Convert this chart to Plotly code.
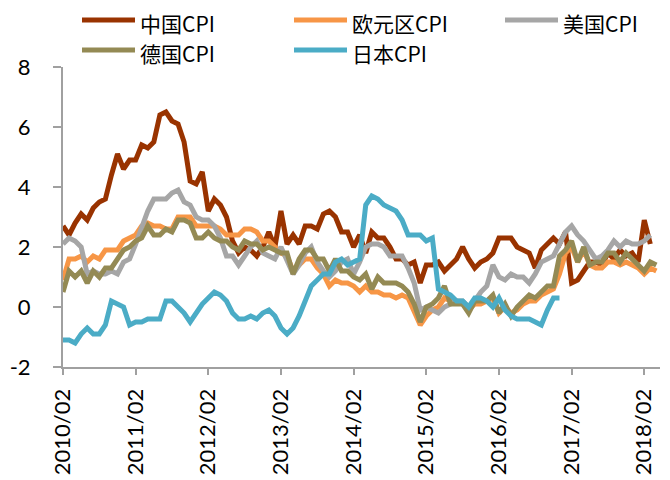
import plotly.graph_objects as go

# Months 2010/02 .. 2018/04
months = []
y, m = 2010, 2
while (y, m) <= (2018, 4):
    months.append(f"{y}/{m:02d}")
    m += 1
    if m > 12:
        y, m = y + 1, 1

tick_labels = ["2010/02", "2011/02", "2012/02", "2013/02", "2014/02",
               "2015/02", "2016/02", "2017/02", "2018/02"]
y_tick_vals = [-2, 0, 2, 4, 6, 8]
y_tick_text = ["-2", "0", "2", "4", "6", "8"]

china_cpi = [2.7, 2.4, 2.8, 3.1, 2.9, 3.3, 3.5, 3.6, 4.4, 5.1, 4.6,
             4.9, 4.9, 5.4, 5.3, 5.5, 6.4, 6.5, 6.2, 6.1, 5.5, 4.2, 4.1,
             4.5, 3.2, 3.6, 3.4, 3.0, 2.2, 1.8, 2.0, 1.9, 1.7, 2.0, 2.5,
             2.0, 3.2, 2.1, 2.4, 2.1, 2.7, 2.7, 2.6, 3.1, 3.2, 3.0, 2.5,
             2.5, 2.0, 2.4, 1.8, 2.5, 2.3, 2.3, 2.0, 1.6, 1.6, 1.4, 1.5,
             0.8, 1.4, 1.4, 1.5, 1.2, 1.4, 1.6, 2.0, 1.6, 1.3, 1.5, 1.6,
             1.8, 2.3, 2.3, 2.3, 2.0, 1.9, 1.8, 1.3, 1.9, 2.1, 2.3, 2.1,
             2.5, 0.8, 0.9, 1.2, 1.5, 1.5, 1.4, 1.8, 1.6, 1.9, 1.7, 1.8,
             1.5, 2.9, 2.1]

euro_cpi = [0.9, 1.6, 1.6, 1.7, 1.5, 1.7, 1.6, 1.9, 1.9, 1.9, 2.2,
            2.3, 2.4, 2.7, 2.8, 2.7, 2.7, 2.6, 2.6, 3.0, 3.0, 3.0, 2.7,
            2.7, 2.7, 2.7, 2.6, 2.4, 2.4, 2.4, 2.6, 2.6, 2.5, 2.2, 2.2,
            2.0, 1.8, 1.7, 1.2, 1.4, 1.6, 1.6, 1.3, 1.1, 0.7, 0.9, 0.8,
            0.8, 0.7, 0.5, 0.7, 0.5, 0.5, 0.4, 0.4, 0.3, 0.4, 0.3, -0.2,
            -0.6, -0.3, -0.1, 0.0, 0.3, 0.2, 0.2, 0.1, -0.1, 0.1, 0.1, 0.2,
            0.3, -0.2, 0.0, -0.2, -0.1, 0.1, 0.2, 0.2, 0.4, 0.5, 0.6, 1.1,
            1.8, 2.0, 1.5, 1.9, 1.4, 1.3, 1.3, 1.5, 1.5, 1.4, 1.5, 1.4,
            1.3, 1.1, 1.3, 1.2]

us_cpi = [2.1, 2.3, 2.2, 2.0, 1.1, 1.2, 1.1, 1.1, 1.2, 1.1, 1.5,
          1.6, 2.1, 2.7, 3.2, 3.6, 3.6, 3.6, 3.8, 3.9, 3.5, 3.4, 3.0,
          2.9, 2.9, 2.7, 2.3, 1.7, 1.7, 1.4, 1.7, 2.0, 2.2, 1.8, 1.7,
          1.6, 2.0, 1.5, 1.1, 1.4, 1.8, 2.0, 1.5, 1.2, 1.0, 1.2, 1.5,
          1.6, 1.1, 1.5, 2.0, 2.1, 2.1, 2.0, 1.7, 1.7, 1.7, 1.3, 0.8,
          -0.1, 0.0, -0.1, -0.2, 0.0, 0.1, 0.2, 0.2, 0.0, 0.2, 0.5, 0.7,
          1.4, 1.0, 0.9, 1.1, 1.0, 1.0, 0.8, 1.1, 1.5, 1.6, 1.7, 2.1,
          2.5, 2.7, 2.4, 2.2, 1.9, 1.6, 1.7, 1.9, 2.2, 2.0, 2.2, 2.1,
          2.1, 2.2, 2.4]

germany_cpi = [0.5, 1.2, 1.0, 1.2, 0.8, 1.2, 1.0, 1.3, 1.3, 1.6, 1.9,
               2.0, 2.2, 2.3, 2.7, 2.4, 2.4, 2.6, 2.5, 2.9, 2.9, 2.8, 2.3,
               2.3, 2.5, 2.3, 2.2, 2.2, 2.0, 1.9, 2.2, 2.1, 2.1, 1.9, 2.0,
               1.9, 1.8, 1.8, 1.1, 1.6, 1.9, 1.9, 1.6, 1.6, 1.2, 1.6, 1.2,
               1.2, 1.0, 0.9, 1.1, 0.6, 1.0, 0.8, 0.8, 0.8, 0.7, 0.5, 0.1,
               -0.5, 0.0, 0.1, 0.3, 0.7, 0.1, 0.1, 0.1, -0.2, 0.2, 0.2, 0.2,
               0.4, -0.2, 0.1, -0.3, 0.0, 0.2, 0.4, 0.3, 0.5, 0.7, 0.7, 1.7,
               1.9, 2.2, 1.5, 2.0, 1.4, 1.5, 1.5, 1.8, 1.8, 1.5, 1.8, 1.6,
               1.4, 1.2, 1.5, 1.4]

japan_cpi = [-1.1, -1.1, -1.2, -0.9, -0.7, -0.9, -0.9, -0.6, 0.2, 0.1, 0.0,
             -0.6, -0.5, -0.5, -0.4, -0.4, -0.4, 0.2, 0.2, 0.0, -0.2, -0.5, -0.2,
             0.1, 0.3, 0.5, 0.4, 0.2, -0.2, -0.4, -0.4, -0.3, -0.4, -0.2, -0.1,
             -0.3, -0.7, -0.9, -0.7, -0.3, 0.2, 0.7, 0.9, 1.1, 1.1, 1.5, 1.6,
             1.4, 1.5, 1.6, 3.4, 3.7, 3.6, 3.4, 3.3, 3.2, 2.9, 2.4, 2.4,
             2.4, 2.2, 2.3, 0.6, 0.5, 0.4, 0.2, 0.2, 0.0, 0.3, 0.3, 0.2,
             0.0, 0.3, -0.1, -0.3, -0.4, -0.4, -0.4, -0.5, -0.6, -0.1, 0.3, 0.3]

series = [
    ("中国CPI", china_cpi, "#993300"),
    ("欧元区CPI", euro_cpi, "#F79646"),
    ("美国CPI", us_cpi, "#A6A6A6"),
    ("德国CPI", germany_cpi, "#948A54"),
    ("日本CPI", japan_cpi, "#4BACC6"),
]

fig = go.Figure()
for name, vals, color in series:
    fig.add_trace(go.Scatter(
        x=months[:len(vals)], y=vals, mode="lines", name=name,
        line=dict(color=color, width=5), showlegend=False,
    ))

# The page body has an 8px default margin; figure coordinates are offset by it.
OFF = 8
W, H = 670 - OFF, 480 - OFF
L, R, T, B = 63 - OFF, 10, 67 - OFF, 480 - 367
pw, ph = W - L - R, H - T - B

def px(x):
    return (x - OFF - L) / pw

def py(y):
    return (H - B - (y - OFF)) / ph

legend_pos = [(80, 23), (292, 23), (503, 23), (80, 53), (292, 53)]
shapes = []
annotations = []
for (name, vals, color), (lx, ly) in zip(series, legend_pos):
    shapes.append(dict(type="line", xref="paper", yref="paper",
                       x0=px(lx + 2), x1=px(lx + 55), y0=py(ly - 3), y1=py(ly - 3),
                       line=dict(color=color, width=5)))
    annotations.append(dict(text=name, xref="paper", yref="paper",
                            x=px(lx + 59), y=py(ly), xanchor="left", yanchor="middle",
                            showarrow=False, borderpad=0,
                            font=dict(family="Noto Sans CJK SC", size=21, color="#000")))

axis_color = "#A0A0A0"
fig.update_layout(
    width=W, height=H,
    margin=dict(l=L, r=R, t=T, b=B),
    plot_bgcolor="white", paper_bgcolor="white",
    shapes=shapes, annotations=annotations,
    xaxis=dict(
        type="category", range=[0, 98.6], automargin=False,
        tickmode="array", tickvals=tick_labels, ticktext=tick_labels,
        tickangle=-90, showgrid=False, zeroline=False,
        showline=True, linecolor=axis_color, linewidth=2,
        ticks="outside", ticklen=6, tickwidth=2, tickcolor=axis_color,
        tickfont=dict(family="Lato", size=22, color="#000"),
        ticklabelstandoff=5,
    ),
    yaxis=dict(
        range=[-2, 8], automargin=False,
        tickmode="array", tickvals=y_tick_vals, ticktext=y_tick_text,
        showgrid=False, zeroline=False,
        showline=True, linecolor=axis_color, linewidth=2,
        ticks="outside", ticklen=8, tickwidth=2, tickcolor=axis_color,
        tickfont=dict(family="Lato", size=22, color="#000"),
        ticklabelstandoff=18,
    ),
)

fig.write_html("out.html")
